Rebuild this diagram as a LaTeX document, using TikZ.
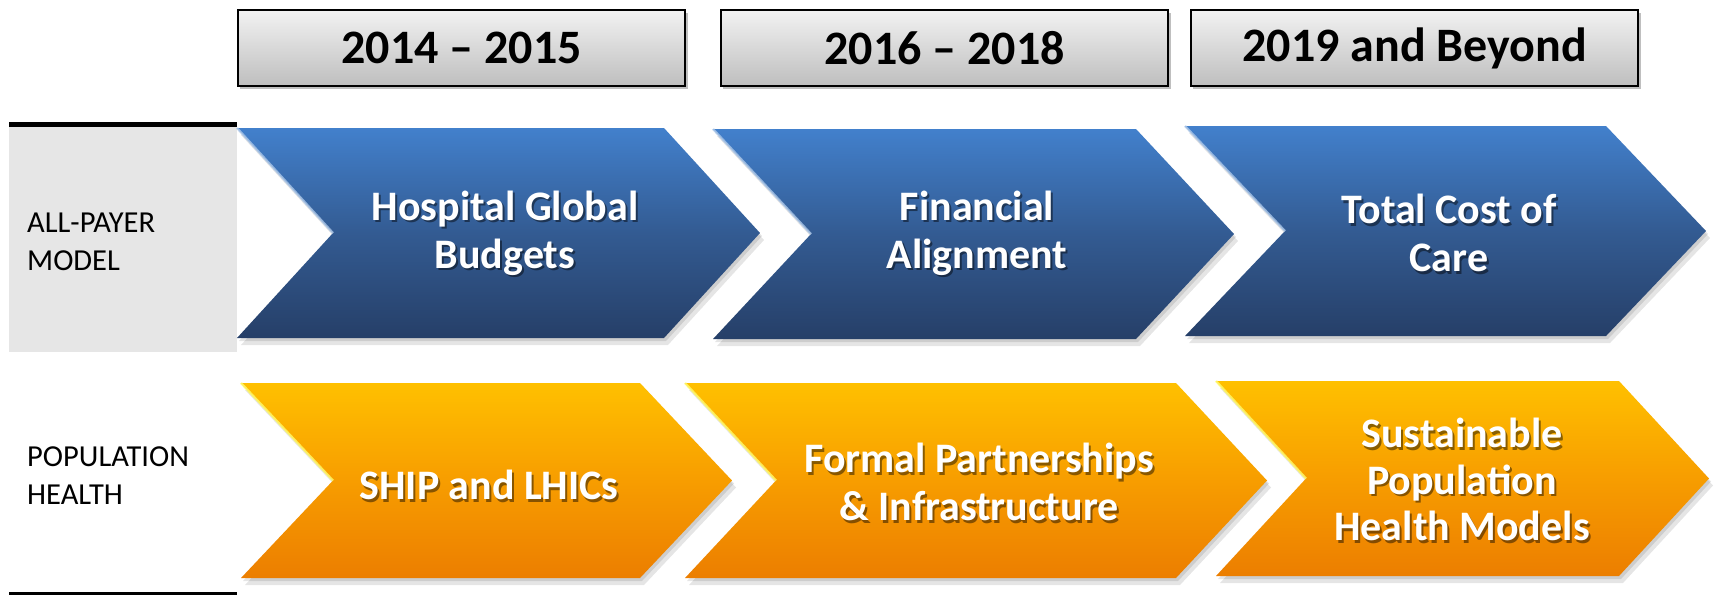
\documentclass[tikz,border=0pt]{standalone}
\usepackage{fontspec}
\setmainfont{Carlito}
\definecolor{bluetop}{RGB}{66,128,204}
\definecolor{bluemid}{RGB}{51,91,146}
\definecolor{bluebot}{RGB}{38,63,104}
\definecolor{orgtop}{RGB}{255,192,0}
\definecolor{orgmid}{RGB}{247,157,0}
\definecolor{orgbot}{RGB}{236,126,0}
\definecolor{panelgrey}{RGB}{230,230,230}
\definecolor{hdrtop}{RGB}{242,242,242}
\definecolor{hdrbot}{RGB}{190,190,190}
\tikzset{
  chevblue/.style={top color=bluetop,bottom color=bluebot,middle color=bluemid},
  chevorange/.style={top color=orgtop,bottom color=orgbot,middle color=orgmid},
  edgeblue/.style={draw=white!55!bluetop,line width=2.2pt,opacity=0.8},
  edgeorange/.style={draw=yellow!60!white,line width=2.2pt,opacity=0.85},
  hdrbox/.style={draw=black,line width=2.2pt,top color=hdrtop,bottom color=hdrbot,
     minimum width=447pt,minimum height=76pt,inner sep=0pt,anchor=north west,
     font=\fontsize{48}{56}\selectfont\bfseries},
  rowlabel/.style={anchor=west,align=left,inner sep=0pt,
     font=\fontsize{30.5}{38}\selectfont},
  wtxt/.style={align=center,text=white,inner sep=0pt,
     font=\fontsize{42}{48}\selectfont\bfseries},
  wtxtthree/.style={wtxt,font=\fontsize{42}{46.5}\selectfont\bfseries},
}
\newcommand\chevron[7]{%
  \pgfmathsetmacro\chM{(#2+#3)/2}%
  \pgfmathsetmacro\chT{#4+#5}%
  \pgfmathsetmacro\chN{#1+#5}%
  \fill[black,opacity=0.10,shift={(2,3)}] (#1,#2) -- (#4,#2) -- (\chT,\chM) -- (#4,#3) -- (#1,#3) -- (\chN,\chM) -- cycle;
  \fill[black,opacity=0.10,shift={(4,7)}] (#1,#2) -- (#4,#2) -- (\chT,\chM) -- (#4,#3) -- (#1,#3) -- (\chN,\chM) -- cycle;
  \shade[#6] (#1,#2) -- (#4,#2) -- (\chT,\chM) -- (#4,#3) -- (#1,#3) -- (\chN,\chM) -- cycle;
  \draw[#7] (#1,#2) -- (\chN,\chM);
}
\newcommand\stext[5]{%
  \node[#5,text=black,opacity=0.45] (#1s) at ({#2+2},{#3+2.5}) {#4};
  \node[#5] (#1) at (#2,#3) {#4};
}
\begin{document}
\begin{tikzpicture}[x=1pt,y=-1pt]
\useasboundingbox (0,0) rectangle (1715,595);
\fill[white] (0,0) rectangle (1715,595);

% left panel
\fill[panelgrey] (9,126) rectangle (237,352);
\draw[black,line width=5pt] (9,124.5) -- (237,124.5);
\draw[black,line width=3pt] (9,593) -- (237,593);
\node[rowlabel] (lab1) at (27,242) {ALL-PAYER\\MODEL};
\node[rowlabel] (lab2) at (27,476) {POPULATION\\HEALTH};

% header boxes
\foreach \hx in {237,720,1190}{
  \fill[black,opacity=0.25] (\hx+3,13) rectangle (\hx+451,89);
}
\node[hdrbox] (h1) at (237,9) {2014 -- 2015};
\node[hdrbox] (h2) at (720,9) {2016 -- 2018};
\node[hdrbox] (h3) at (1190,9) {2019 and Beyond};

% blue chevrons
\chevron{237}{128}{338}{664}{96}{chevblue}{edgeblue}
\chevron{713}{129}{339}{1136}{98}{chevblue}{edgeblue}
\chevron{1185}{126}{336}{1606}{100}{chevblue}{edgeblue}

% orange chevrons
\chevron{241}{383}{578}{640}{92}{chevorange}{edgeorange}
\chevron{685}{383}{578}{1176}{91}{chevorange}{edgeorange}
\chevron{1216}{381}{576}{1619}{90}{chevorange}{edgeorange}

% texts
\stext{b1}{505}{233}{Hospital Global\\Budgets}{wtxt}
\stext{b2}{977}{233}{Financial\\Alignment}{wtxt}
\stext{b3}{1449}{233}{Total Cost of\\Care}{wtxt}
\stext{o1}{489}{485}{SHIP and LHICs}{wtxt}
\stext{o2}{979}{482}{Formal Partnerships\\\& Infrastructure}{wtxt}
\stext{o3}{1462}{479.5}{Sustainable\\Population\\Health Models}{wtxtthree}
\end{tikzpicture}
\end{document}
